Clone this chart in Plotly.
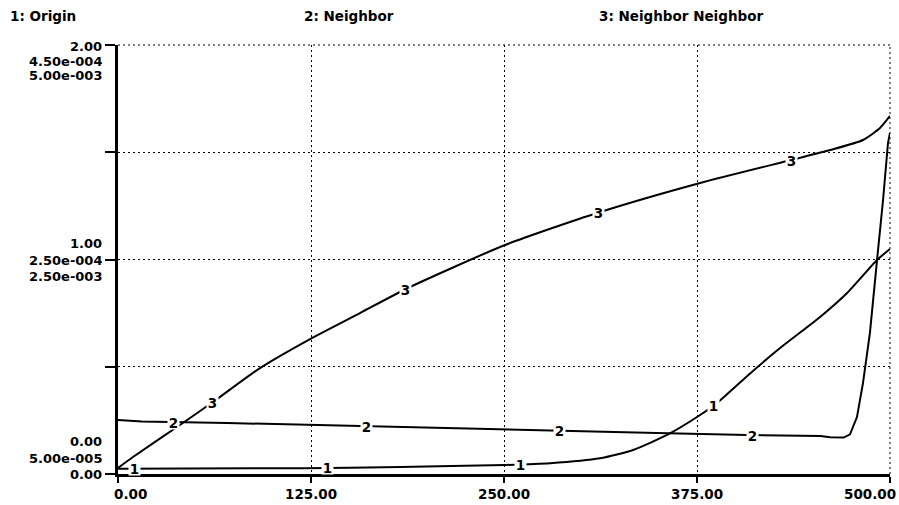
import numpy as np
import plotly.graph_objects as go

# ---- simulation output -------------------------------------------------
time_ticks = [0, 125, 250, 375, 500]
time_tick_labels = ["0.00", "125.00", "250.00", "375.00", "500.00"]

# 1: Origin
origin_t = [0, 120, 183, 250.7, 279.8, 312.2, 333.6, 355.6, 377.0, 388.0,
            409.4, 428.8, 454.7, 472.2, 491.6, 500]
origin_v = [0.025, 0.027, 0.033, 0.042, 0.050, 0.073, 0.112, 0.182, 0.275,
            0.331, 0.469, 0.587, 0.732, 0.844, 0.998, 1.049]

# 2: Neighbor
neighbor_t = [0, 15.5, 70.6, 126.3, 182.6, 247.4, 290.8, 349.1, 407.4, 455.0,
              461.2, 470.0, 474.1, 478.6, 482.5, 487.0, 491.6, 495.5, 498.7, 500]
neighbor_v = [1.004e-4, 9.90e-5, 9.76e-5, 9.57e-5, 9.38e-5, 9.10e-5, 9.01e-5,
              8.82e-5, 8.64e-5, 8.55e-5, 8.42e-5, 8.40e-5, 8.70e-5, 1.031e-4,
              1.348e-4, 1.815e-4, 2.495e-4, 3.055e-4, 3.586e-4, 3.68e-4]

# 3: Neighbor Neighbor
nn_t = [0, 9.7, 38.2, 61.5, 92.0, 124.4, 156.7, 187.8, 250.7, 310.3, 377.0,
        438.5, 461.2, 482.5, 493.5, 500]
nn_v = [7.0e-5, 1.98e-4, 5.48e-4, 8.39e-4, 1.235e-3, 1.573e-3, 1.876e-3,
        2.168e-3, 2.669e-3, 3.042e-3, 3.392e-3, 3.671e-3, 3.776e-3, 3.893e-3,
        4.033e-3, 4.173e-3]

# per-series scale (min, mid, max) and their printed labels
origin_scale = [0.0, 1.0, 2.0]
origin_scale_labels = ["0.00", "1.00", "2.00"]
neighbor_scale = [5.0e-5, 2.5e-4, 4.5e-4]
neighbor_scale_labels = ["5.00e-005", "2.50e-004", "4.50e-004"]
nn_scale = [0.0, 2.5e-3, 5.0e-3]
nn_scale_labels = ["0.00", "2.50e-003", "5.00e-003"]

series_names = ["1: Origin", "2: Neighbor", "3: Neighbor Neighbor"]

# ---- figure -------------------------------------------------------------
W, H = 899, 505
L, R, T, B = 118, 9, 45, 31
FONT = dict(family="DejaVu Sans", size=13.5, color="black", weight="bold")
LABEL_FONT = dict(family="DejaVu Sans", size=13, color="black", weight="bold")
DOT = "2px,3px"

fig = go.Figure()
series = [
    (origin_t, origin_v, "y", "spline"),
    (neighbor_t, neighbor_v, "y2", "linear"),
    (nn_t, nn_v, "y3", "spline"),
]
for t, v, ax, shape in series:
    fig.add_trace(go.Scatter(x=t, y=v, yaxis=ax, mode="lines",
                             line=dict(color="black", width=2, shape=shape,
                                       smoothing=0.6),
                             hoverinfo="skip", showlegend=False))

annotations = []

# numbered markers riding on each curve, every 125 time units
for k, (t, v, ax, _) in enumerate(series):
    for i in range(4):
        xl = 11 + 25 * k + 125 * i
        annotations.append(dict(
            x=xl, y=float(np.interp(xl, t, v)), xref="x", yref=ax,
            text=str(k + 1), showarrow=False, bgcolor="white",
            borderpad=0, width=11, height=13, font=FONT))

# stacked scale labels on the left axis
for (vals, labs, ax, order) in [
    (origin_scale, origin_scale_labels, "y", 0),
    (neighbor_scale, neighbor_scale_labels, "y2", 1),
    (nn_scale, nn_scale_labels, "y3", 2),
]:
    # bottom stack ends on the tick, middle stack centred on it, top starts on it
    shifts = [(2 - order) * 16.5, (1 - order) * 16.5, -1 - order * 14.5]
    for val, lab, ys in zip(vals, labs, shifts):
        annotations.append(dict(
            x=0, y=val, xref="x", yref=ax, text=lab, showarrow=False,
            xanchor="right", yanchor="middle", xshift=-14, yshift=ys,
            height=12, font=LABEL_FONT))

# time axis labels
for val, lab in zip(time_ticks, time_tick_labels):
    anchor = "left" if val == time_ticks[0] else ("right" if val == time_ticks[-1] else "center")
    xs = -6 if anchor == "left" else (8 if anchor == "right" else 0)
    annotations.append(dict(
        x=val, y=0, xref="x", yref="paper", text=lab, showarrow=False,
        xanchor=anchor, yanchor="middle", xshift=xs, yshift=-20, font=FONT))

# series header row
for name, px in zip(series_names, [8, 302, 597]):
    annotations.append(dict(
        x=(px - L) / (W - L - R), y=1, xref="paper", yref="paper", text=name,
        showarrow=False, xanchor="left", yanchor="middle", yshift=29,
        font=FONT))

# dotted frame along the top and right edges of the plot area
border = dict(color="black", width=1, dash=DOT)
shapes = [
    dict(type="line", xref="paper", yref="paper", x0=0, x1=1, y0=1, y1=1,
         line=border, layer="below"),
    dict(type="line", xref="paper", yref="paper", x0=1, x1=1, y0=0, y1=1,
         line=border, layer="below"),
]

fig.update_layout(
    width=W, height=H,
    margin=dict(l=L, r=R, t=T, b=B, pad=0),
    paper_bgcolor="white", plot_bgcolor="white",
    showlegend=False,
    annotations=annotations,
    shapes=shapes,
    xaxis=dict(range=[0, 500], tickvals=time_ticks, showticklabels=False,
               ticks="outside", ticklen=6, tickwidth=2, tickcolor="black",
               showline=True, linewidth=3, linecolor="black",
               showgrid=True, gridcolor="black", gridwidth=1, griddash=DOT,
               zeroline=False, fixedrange=True),
    yaxis=dict(range=origin_scale[::2], tickvals=[0, 0.5, 1, 1.5, 2],
               showticklabels=False, ticks="outside", ticklen=10, tickwidth=2,
               tickcolor="black", showline=True, linewidth=3, linecolor="black",
               showgrid=True, gridcolor="black", gridwidth=1, griddash=DOT,
               zeroline=False, fixedrange=True),
    yaxis2=dict(range=neighbor_scale[::2], overlaying="y", visible=False),
    yaxis3=dict(range=nn_scale[::2], overlaying="y", visible=False),
)

fig.write_html("out.html")
